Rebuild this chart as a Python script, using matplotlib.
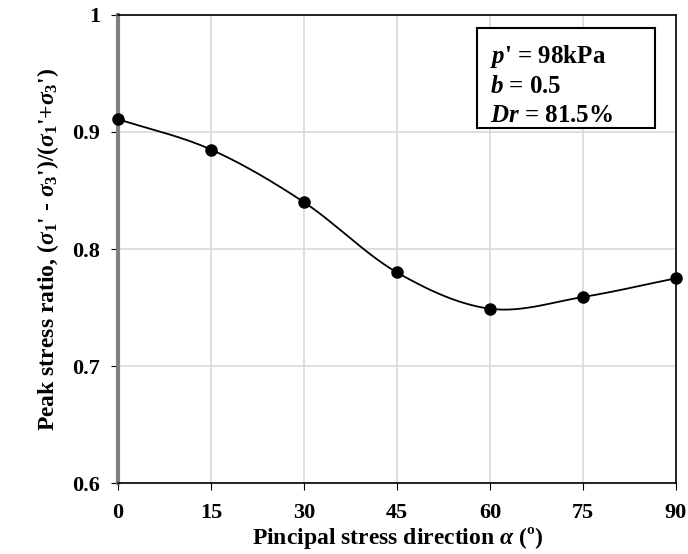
import numpy as np
import matplotlib
matplotlib.use("Agg")
from matplotlib import pyplot as plt
from matplotlib.patches import Rectangle

# Data
alpha = [0, 15, 30, 45, 60, 75, 90]
ratio = [0.911, 0.885, 0.840, 0.780, 0.749, 0.759, 0.775]
x_ticks = [0, 15, 30, 45, 60, 75, 90]
y_ticks = [0.6, 0.7, 0.8, 0.9, 1.0]
y_tick_labels = ["0.6", "0.7", "0.8", "0.9", "1"]

plt.rcParams['font.family'] = 'Liberation Serif'
plt.rcParams['font.weight'] = 'bold'
plt.rcParams['mathtext.fontset'] = 'custom'
plt.rcParams['mathtext.rm'] = 'Liberation Serif:bold'
plt.rcParams['mathtext.it'] = 'Liberation Serif:italic:bold'
plt.rcParams['mathtext.bf'] = 'Liberation Serif:bold'


def smooth(xs, ys, n=30):
    # Catmull-Rom style smoothing, like a spreadsheet "smoothed line"
    xs = np.asarray(xs, float)
    ys = np.asarray(ys, float)
    px = np.concatenate([[2 * xs[0] - xs[1]], xs, [2 * xs[-1] - xs[-2]]])
    py = np.concatenate([[2 * ys[0] - ys[1]], ys, [2 * ys[-1] - ys[-2]]])
    outx, outy = [], []
    t = np.linspace(0, 1, n)
    for i in range(1, len(px) - 2):
        for p, out in ((px, outx), (py, outy)):
            p0, p1, p2, p3 = p[i - 1], p[i], p[i + 1], p[i + 2]
            out.extend(0.5 * (2 * p1 + (-p0 + p2) * t
                              + (2 * p0 - 5 * p1 + 4 * p2 - p3) * t ** 2
                              + (-p0 + 3 * p1 - 3 * p2 + p3) * t ** 3))
    return outx, outy


fig = plt.figure(figsize=(6.88, 5.54), dpi=100)
ax = fig.add_axes([0.1715, 0.128, 0.811, 0.845])

sx, sy = smooth(alpha, ratio)
ax.plot(sx, sy, color='black', linewidth=1.3, zorder=3)
ax.plot(alpha, ratio, 'o', color='black', markersize=8, zorder=4, clip_on=False)

ax.set_xlim(0, 90)
ax.set_ylim(0.6, 1.0)
ax.set_xticks(x_ticks)
ax.set_yticks(y_ticks)
ax.set_yticklabels(y_tick_labels)
ax.grid(True, color='#d9d9d9', linewidth=1.2)
ax.set_axisbelow(True)

for s in ['top', 'right', 'bottom']:
    ax.spines[s].set_color('black')
    ax.spines[s].set_linewidth(1.2)
ax.spines['left'].set_color('#808080')
ax.spines['left'].set_linewidth(3)

ax.tick_params(axis='both', labelsize=16, direction='out', length=5, color='black')
ax.tick_params(axis='x', pad=9)
ax.tick_params(axis='y', pad=8)
for lbl in ax.get_xticklabels() + ax.get_yticklabels():
    lbl.set_fontweight('bold')

ax.set_xlabel(r"Pincipal stress direction $\alpha$ (º)", fontsize=17, fontweight='bold', labelpad=2)
ax.set_ylabel(r"Peak stress ratio, ($\sigma_1$' - $\sigma_3$')/($\sigma_1$'+$\sigma_3$')",
              fontsize=17, fontweight='bold', labelpad=8)

# annotation box
ax.add_patch(Rectangle((0.643, 0.759), 0.319, 0.213, transform=ax.transAxes,
                       facecolor='white', edgecolor='black', linewidth=1.5, zorder=5))
ax.text(0.667, 0.940,
        "$p$' = 98kPa\n$b$ = 0.5\n$Dr$ = 81.5%",
        transform=ax.transAxes, fontsize=18, fontweight='bold', va='top', ha='left',
        linespacing=1.3, zorder=6)

fig.savefig('out.png', dpi=100)
